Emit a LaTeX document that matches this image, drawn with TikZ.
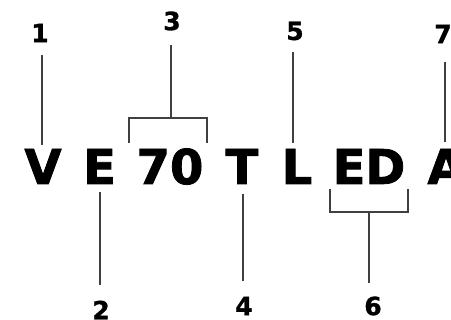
\documentclass[tikz,border=0pt]{standalone}
\usepackage{fontspec}
\setmainfont{DejaVu Sans}
\newfontfamily\heavyfont[FakeBold=1.6]{DejaVu Sans Bold}
\newfontfamily\numfont[FakeBold=1.2]{DejaVu Sans Bold}
\begin{document}
\begin{tikzpicture}[x=1pt,y=-1pt,
  big/.style={inner sep=0pt,anchor=base,font=\fontsize{48}{48}\heavyfont},
  num/.style={inner sep=0pt,font=\fontsize{25}{25}\numfont},
  lead/.style={draw=black!75,line width=2pt}]
\useasboundingbox (0,0) rectangle (451,320);
\fill[white] (0,0) rectangle (451,320);
% code letters
\node[big] (V) at (43,184) {V};
\node[big] (E) at (99.5,184) {E};
\node[big] (S) at (170,184) {70};
\node[big] (T) at (242,184) {T};
\node[big] (L) at (297,184) {L};
\node[big] (ED) at (369,184) {ED};
\node[big] (A) at (446,184) {A};
% numbers
\node[num] (n1) at (40,33) {1};
\node[num] (n2) at (101,310) {2};
\node[num] (n3) at (172,21) {3};
\node[num] (n4) at (244,306) {4};
\node[num] (n5) at (295,31) {5};
\node[num] (n6) at (373,306) {6};
\node[num] (n7) at (443,34) {7};
% coordinates
\coordinate (a1) at (42,55);   \coordinate (b1) at (42,145);
\coordinate (a2) at (100,192); \coordinate (b2) at (100,285);
\coordinate (a3) at (171,45);  \coordinate (b3) at (171,118);
\coordinate (l3) at (129,143); \coordinate (lm3) at (129,118);
\coordinate (r3) at (207,143); \coordinate (rm3) at (207,118);
\coordinate (a4) at (243,194); \coordinate (b4) at (243,281);
\coordinate (a5) at (293,52);  \coordinate (b5) at (293,143);
\coordinate (l6) at (330,189); \coordinate (lm6) at (330,212);
\coordinate (r6) at (408,189); \coordinate (rm6) at (408,212);
\coordinate (a6) at (369,212); \coordinate (b6) at (369,283);
\coordinate (a7) at (445,62);  \coordinate (b7) at (445,142);
% leaders
\draw[lead] (a1) -- (b1);
\draw[lead] (a2) -- (b2);
\draw[lead] (a3) -- (b3);
\draw[lead] (l3) -- (lm3) -- (rm3) -- (r3);
\draw[lead] (a4) -- (b4);
\draw[lead] (a5) -- (b5);
\draw[lead] (l6) -- (lm6) -- (rm6) -- (r6);
\draw[lead] (a6) -- (b6);
\draw[lead] (a7) -- (b7);
\end{tikzpicture}
\end{document}
